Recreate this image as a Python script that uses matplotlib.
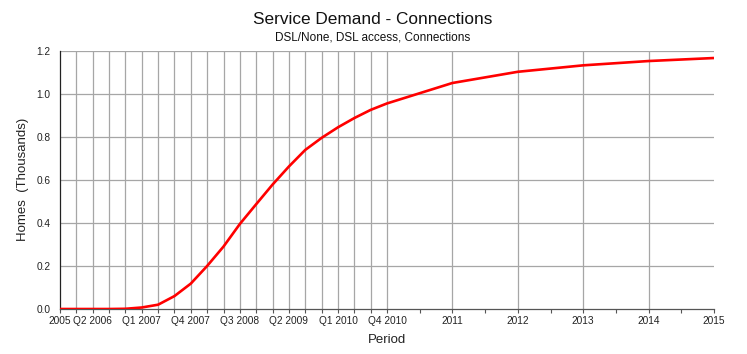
import matplotlib
matplotlib.use("Agg")
import matplotlib.pyplot as plt

plt.rcParams['font.family'] = ['Liberation Sans', 'DejaVu Sans']

# ---- data ----
periods = ["2005",
           "Q1 2006", "Q2 2006", "Q3 2006", "Q4 2006",
           "Q1 2007", "Q2 2007", "Q3 2007", "Q4 2007",
           "Q1 2008", "Q2 2008", "Q3 2008", "Q4 2008",
           "Q1 2009", "Q2 2009", "Q3 2009", "Q4 2009",
           "Q1 2010", "Q2 2010", "Q3 2010", "Q4 2010",
           "2011", "2012", "2013", "2014", "2015"]
connections = [0.0,
               0.0, 0.0, 0.0, 0.001,
               0.007, 0.02, 0.06, 0.118,
               0.20, 0.29, 0.395, 0.487,
               0.578, 0.662, 0.739, 0.795,
               0.844, 0.887, 0.925, 0.955,
               1.050, 1.102, 1.132, 1.152, 1.166]
tick_labels = ["2005", "Q2 2006", "Q1 2007", "Q4 2007", "Q3 2008", "Q2 2009",
               "Q1 2010", "Q4 2010", "2011", "2012", "2013", "2014", "2015"]
y_ticks = [0.0, 0.2, 0.4, 0.6, 0.8, 1.0, 1.2]


def period_pos(label):
    # time axis measured in quarters; annual periods span four quarters
    if label.startswith("Q"):
        q, yr = label.split()
        return (int(yr) - 2006) * 4 + int(q[1])
    return (int(label) - 2005) * 4


xs = [period_pos(p) for p in periods]

fig = plt.figure(figsize=(7.47, 3.54), dpi=100)
ax = fig.add_axes([60 / 747, 1 - 309 / 354, 654 / 747, (309 - 50.7) / 354])

grid_c = "#a6a6a6"
for x in xs[1:-1]:
    ax.axvline(x, color=grid_c, lw=0.9, zorder=1)
for y in y_ticks[1:]:
    ax.axhline(y, color=grid_c, lw=0.9, zorder=1)

ax.plot(xs, connections, color="#ff0000", lw=1.9, zorder=3, solid_capstyle="butt")

ax.set_xlim(xs[0], xs[-1])
ax.set_ylim(0, 1.2)
ax.set_yticks(y_ticks)
ax.set_yticklabels([f"{v:.1f}" for v in y_ticks])
ax.set_xticks([period_pos(t) for t in tick_labels])
ax.set_xticklabels(tick_labels)
minor = [x for x in range(0, 21)] + list(range(22, 40, 2))
ax.set_xticks(minor, minor=True)

ax.tick_params(axis="x", which="both", direction="out", length=3, width=0.8,
               color="#555555", labelsize=7.3, pad=2, labelcolor="#222222")
ax.tick_params(axis="y", length=0, labelsize=7.3, pad=7, labelcolor="#222222")

for s in ["top", "right"]:
    ax.spines[s].set_visible(False)
ax.spines["left"].set_color("#222222")
ax.spines["left"].set_linewidth(0.9)
ax.spines["bottom"].set_color("#555555")
ax.spines["bottom"].set_linewidth(0.9)

ax.set_xlabel("Period", fontsize=9.5, color="#222222", labelpad=6)
ax.set_ylabel("Homes  (Thousands)", fontsize=9.5, color="#222222", labelpad=5)

fig.text(0.4987, 1 - 19 / 354, "Service Demand - Connections", ha="center", va="center",
         fontsize=12.4, color="#111111")
fig.text(0.4987, 1 - 37 / 354, "DSL/None, DSL access, Connections", ha="center", va="center",
         fontsize=8.5, color="#111111")

fig.savefig("out.png", dpi=100)
